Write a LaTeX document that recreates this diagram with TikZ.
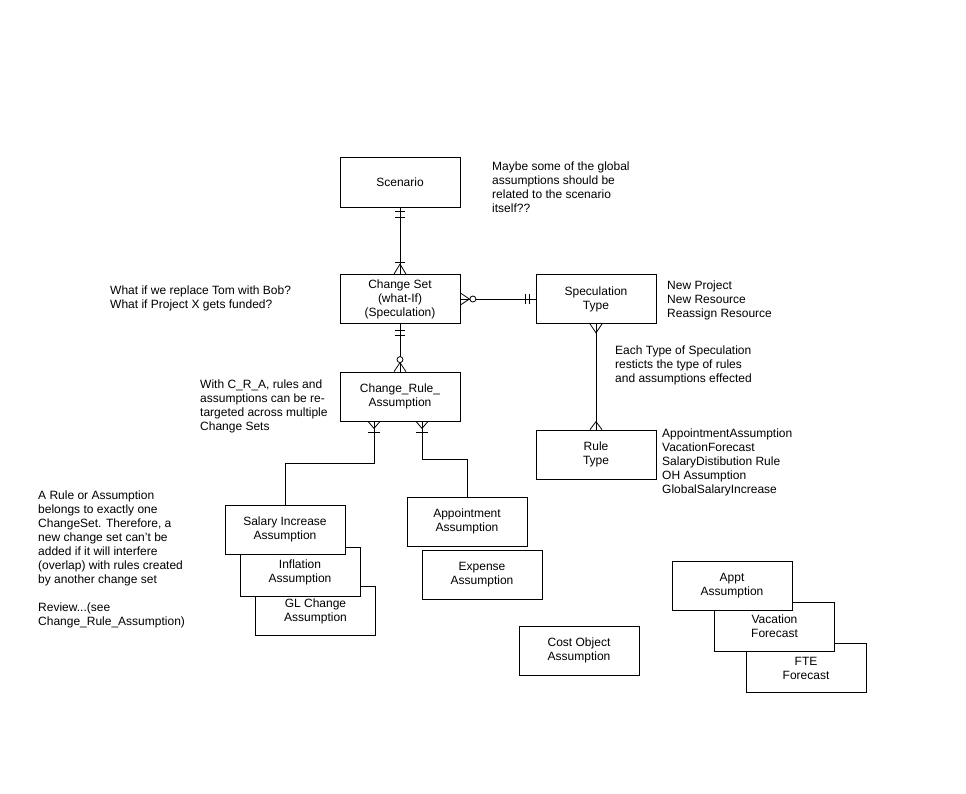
\documentclass[tikz,border=0pt]{standalone}
\usepackage{fontspec}
\setmainfont{Liberation Sans}
\usetikzlibrary{calc}
\tikzset{
  ent/.style={draw, fill=white, minimum width=120pt, minimum height=49pt, align=center, inner sep=0pt, line width=0.8pt},
  note/.style={anchor=north west, align=left, inner sep=0pt},
  conn/.style={line width=0.8pt},
  mk/.style={line width=0.8pt},
}
\begin{document}
\begin{tikzpicture}[x=1pt,y=-1pt, font=\fontsize{12}{14}\selectfont]
\useasboundingbox[fill=white] (0,0) rectangle (966,793);

% entities
\node[ent, minimum height=50pt] (scen) at (400,182) {Scenario};
\node[ent] (cs) at (400,299) {Change Set\\(what-If)\\(Speculation)};
\node[ent] (spec) at (596,299) {Speculation\\Type};
\node[ent] (cra) at (400,396.5) {Change\_Rule\_\\Assumption};
\node[ent] (rule) at (596,454.5) {Rule\\Type};

\node[ent] (gl) at (315.5,611) {GL Change\\Assumption};
\node[ent] (infl) at (300,572) {Inflation\\Assumption};
\node[ent] (sal) at (285,529.5) {Salary Increase\\Assumption};

\node[ent] (app) at (467,521.5) {Appointment\\Assumption};
\node[ent] (exp) at (482,574.5) {Expense\\Assumption};
\node[ent] (cost) at (579,650.5) {Cost Object\\Assumption};

\node[ent] (fte) at (806,668) {FTE\\Forecast};
\node[ent] (vac) at (774.5,626.5) {Vacation\\Forecast};
\node[ent] (appt) at (732,586) {Appt\\Assumption};

% notes
\node[note] (n1) at (492,162) {Maybe some of the global\\assumptions should be\\related to the scenario\\itself??};
\node[note] (n2) at (110,286) {What if we replace Tom with Bob?\\What if Project X gets funded?};
\node[note] (n3) at (667,281) {New Project\\New Resource\\Reassign Resource};
\node[note] (n4) at (615,346) {Each Type of Speculation\\resticts the type of rules\\and assumptions effected};
\node[note] (n5) at (200,380) {With C\_R\_A,\ rules and\\assumptions can be re-\\targeted across multiple\\Change Sets};
\node[note] (n6) at (662,429) {AppointmentAssumption\\VacationForecast\\SalaryDistibution Rule\\OH Assumption\\GlobalSalaryIncrease};
\node[note] (n7) at (38,491) {A Rule or Assumption\\belongs to exactly one\\ChangeSet. Therefore, a\\new change set can't be\\added if it will interfere\\(overlap) with rules created\\by another change set\\[14pt]Review...(see\\Change\_Rule\_Assumption)};

% Scenario -- Change Set
\draw[conn] (scen.south) -- (cs.north);
\draw[mk] ($(scen.south)+(-5,4)$) -- ++(10,0);
\draw[mk] ($(scen.south)+(-5,10)$) -- ++(10,0);
\draw[mk] ($(cs.north)+(-6,0)$) -- ($(cs.north)+(0,-10)$) -- ($(cs.north)+(6,0)$);
\draw[mk] ($(cs.north)+(-5,-12)$) -- ++(10,0);

% Change Set -- Speculation Type
\draw[conn] (cs.east) -- (spec.west);
\draw[mk] ($(cs.east)+(0,-6)$) -- ($(cs.east)+(9,0)$) -- ($(cs.east)+(0,6)$);
\draw[mk, fill=white] ($(cs.east)+(12.5,0)$) circle (3);
\draw[mk] ($(spec.west)+(-6,-5)$) -- ++(0,10);
\draw[mk] ($(spec.west)+(-10,-5)$) -- ++(0,10);

% Change Set -- Change_Rule_Assumption
\draw[conn] (cs.south) -- (cra.north);
\draw[mk] ($(cs.south)+(-5,6)$) -- ++(10,0);
\draw[mk] ($(cs.south)+(-5,11)$) -- ++(10,0);
\draw[mk] ($(cra.north)+(-6,0)$) -- ($(cra.north)+(0,-9)$) -- ($(cra.north)+(6,0)$);
\draw[mk, fill=white] ($(cra.north)+(0,-12)$) circle (3);

% Speculation Type -- Rule Type
\draw[conn] (spec.south) -- (rule.north);
\draw[mk] ($(spec.south)+(-6,0)$) -- ($(spec.south)+(0,9)$) -- ($(spec.south)+(6,0)$);
\draw[mk] ($(rule.north)+(-6,0)$) -- ($(rule.north)+(0,-8)$) -- ($(rule.north)+(6,0)$);

% Change_Rule_Assumption -- Salary Increase
\coordinate (j1) at ($(cra.south)+(-26,0)$);
\draw[conn] (j1) -- ++(0,42) -| (sal.north);
\draw[mk] ($(j1)+(-6,0)$) -- ($(j1)+(0,7)$) -- ($(j1)+(6,0)$);
\draw[mk] ($(j1)+(-6,11)$) -- ++(12,0);

% Change_Rule_Assumption -- Appointment
\coordinate (j2) at ($(cra.south)+(22,0)$);
\draw[conn] (j2) -- ++(0,38) -| (app.north);
\draw[mk] ($(j2)+(-6,0)$) -- ($(j2)+(0,7)$) -- ($(j2)+(6,0)$);
\draw[mk] ($(j2)+(-6,11)$) -- ++(12,0);
\end{tikzpicture}
\end{document}
